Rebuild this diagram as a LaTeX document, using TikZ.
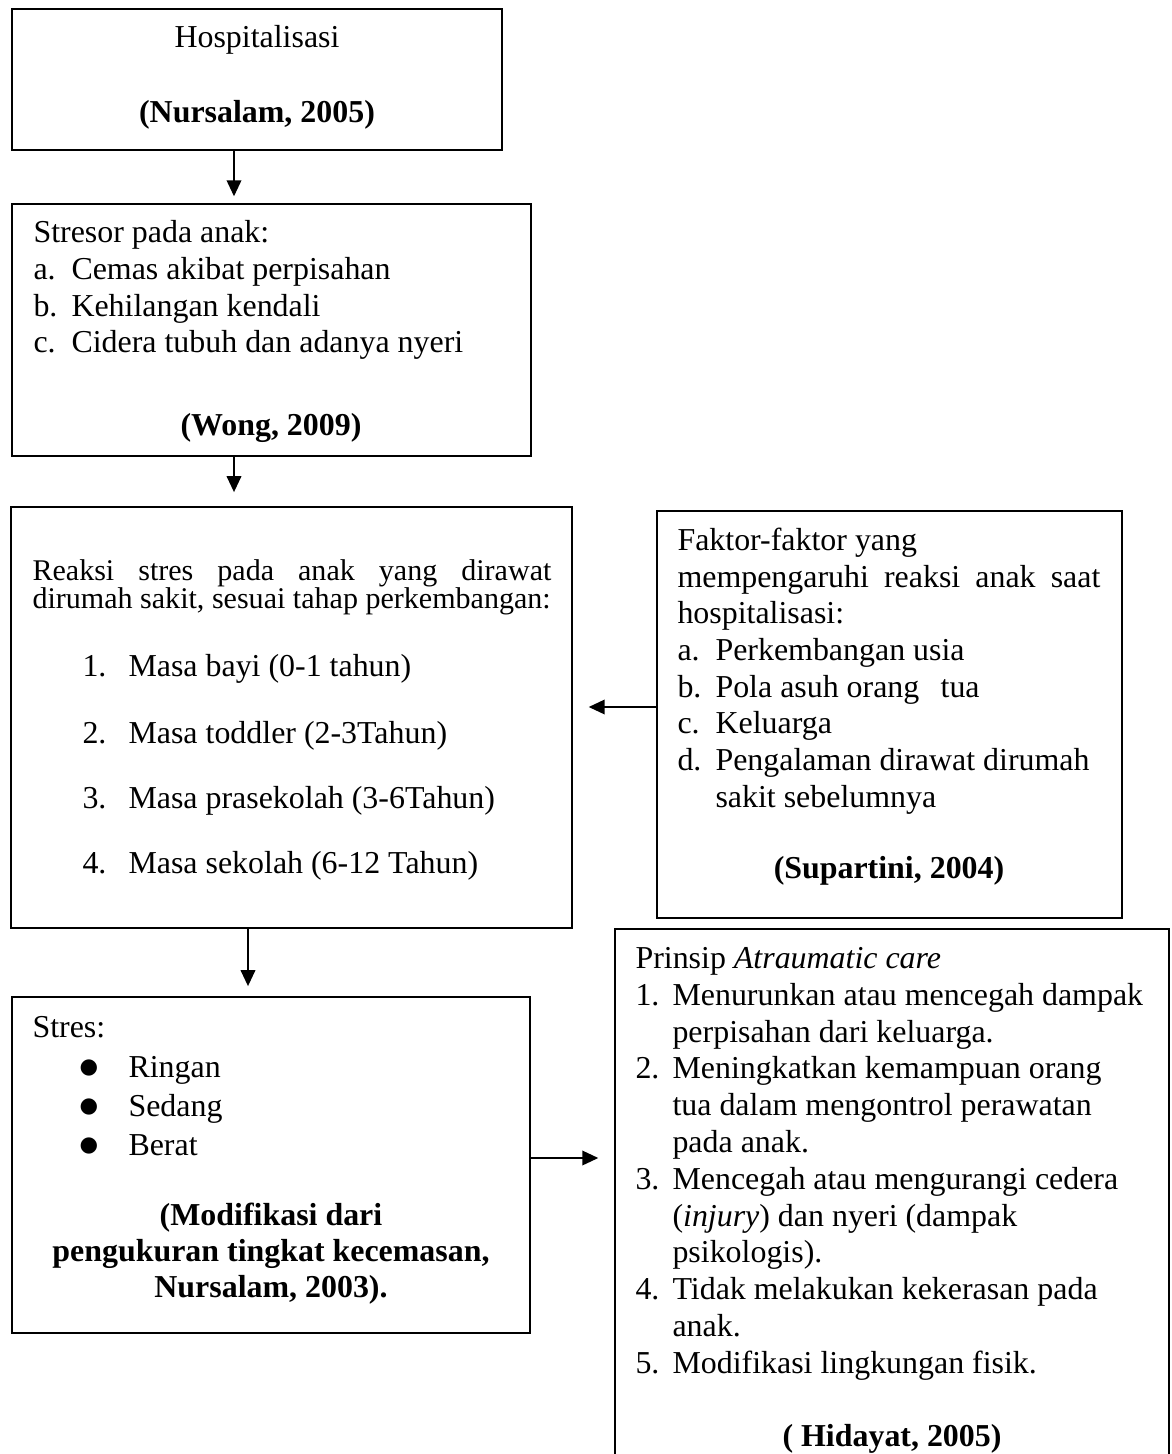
\documentclass[tikz,border=0pt]{standalone}
\usepackage{fontspec}
\setmainfont{Liberation Serif}
\newfontfamily\symfont{DejaVu Sans}
\usetikzlibrary{arrows.meta,fit}

\tikzset{
  box/.style={draw, line width=0.6pt, inner sep=0pt},
  txt/.style={anchor=base west, inner sep=0pt, font=\fontsize{12}{13.8}\selectfont},
  ctr/.style={anchor=base, inner sep=0pt, font=\fontsize{12}{13.8}\selectfont\bfseries},
  arr/.style={-{Triangle[length=6pt,width=5.5pt]}, line width=0.6pt},
}
\newcommand{\bul}{\raisebox{1.2pt}{\symfont\fontsize{8}{8}\selectfont ●}}

\begin{document}
\begin{tikzpicture}[x=0.376pt, y=-0.376pt]
    \useasboundingbox (0,0) rectangle (1171,1454);
    \clip (0,0) rectangle (1171,1454);

    % boxes
    \node[box, fit={(12,9) (502,150)}] (hosp) {};
    \node[box, fit={(12,204) (531,456)}] (stresor) {};
    \node[box, fit={(11,507) (572,928)}] (reaksi) {};
    \node[box, fit={(657,511) (1122,918)}] (faktor) {};
    \node[box, fit={(12,997) (530,1333)}] (stres) {};
    \node[box, fit={(615,929) (1169,1480)}] (prinsip) {};

    % hospitalisasi
    \node[ctr, font=\fontsize{12}{13.8}\selectfont] (hosp-t) at (257,48) {Hospitalisasi};
    \node[ctr] (hosp-r) at (257,123) {(Nursalam, 2005)};

    % stresor
    \node[txt] (stresor-t) at (33,243) {Stresor pada anak:};
    \foreach \n/\y/\t in {a/280/Cemas akibat perpisahan, b/317/Kehilangan kendali, c/353/Cidera tubuh dan adanya nyeri}{
        \node[txt] (stresor-\n) at (33,\y) {\n.};
        \node[txt] (stresor-t\n) at (71,\y) {\t};
    }
    \node[ctr] (stresor-r) at (271,435) {(Wong, 2009)};

    % reaksi
    \node[txt, font=\fontsize{11.3}{13}\selectfont] (reaksi-t1) at (32,580)
        {\makebox[195.1pt][s]{Reaksi stres pada anak yang dirawat}};
    \node[txt, font=\fontsize{11.3}{13}\selectfont] (reaksi-t2) at (32,608)
        {dirumah sakit, sesuai tahap perkembangan:};
    \foreach \n/\y/\t in {1/676/Masa bayi (0-1 tahun), 2/743/Masa toddler (2-3Tahun), 3/808/Masa prasekolah (3-6Tahun), 4/873/Masa sekolah (6-12 Tahun)}{
        \node[txt] (reaksi-\n) at (82,\y) {\n.};
        \node[txt] (reaksi-t\n) at (128,\y) {\t};
    }

    % faktor
    \node[txt] (faktor-t1) at (677,550) {Faktor-faktor yang};
    \node[txt] (faktor-t2) at (677,587) {\makebox[159pt][s]{mempengaruhi reaksi anak saat}};
    \node[txt] (faktor-t3) at (677,623) {hospitalisasi:};
    \foreach \n/\y/\t in {a/660/Perkembangan usia, b/697/Pola asuh orang\hspace{8pt}tua, c/733/Keluarga, d/770/Pengalaman dirawat dirumah}{
        \node[txt] (faktor-\n) at (677,\y) {\n.};
        \node[txt] (faktor-t\n) at (715,\y) {\t};
    }
    \node[txt] (faktor-td2) at (715,807) {sakit sebelumnya};
    \node[ctr] (faktor-r) at (889,878) {(Supartini, 2004)};

    % stres
    \node[txt] (stres-t) at (32,1037) {Stres:};
    \foreach \y/\t [count=\i] in {1077/Ringan, 1116/Sedang, 1155/Berat}{
        \node[txt] (stres-b\i) at (79,\y) {\bul};
        \node[txt] (stres-t\i) at (128,\y) {\t};
    }
    \node[ctr] (stres-r1) at (271,1225) {(Modifikasi dari};
    \node[ctr] (stres-r2) at (271,1261) {pengukuran tingkat kecemasan,};
    \node[ctr] (stres-r3) at (271,1297) {Nursalam, 2003).};

    % prinsip
    \node[txt] (prinsip-t) at (635,968) {Prinsip \textit{Atraumatic care}};
    \foreach \n/\y in {1/1005, 2/1078, 3/1189, 4/1299, 5/1373}
        \node[txt] (prinsip-\n) at (635,\y) {\n.};
    \foreach \y/\t [count=\i] in {1005/Menurunkan atau mencegah dampak, 1042/perpisahan dari keluarga., 1078/Meningkatkan kemampuan orang, 1115/tua dalam mengontrol perawatan, 1152/pada anak., 1189/Mencegah atau mengurangi cedera, 1226/{(\textit{injury}) dan nyeri (dampak}, 1262/psikologis)., 1299/Tidak melakukan kekerasan pada, 1336/anak., 1373/Modifikasi lingkungan fisik.}
        \node[txt] (prinsip-t\i) at (672,\y) {\t};
    \node[ctr] (prinsip-r) at (892,1446) {( Hidayat, 2005)};

    % arrows
    \coordinate (a1) at (234,0);
    \coordinate (a2) at (248,0);
    \coordinate (h1) at (0,707);
    \coordinate (h2) at (0,1158);
    \draw[arr, shorten >=2.6pt] (hosp.south -| a1) -- (stresor.north -| a1);
    \draw[arr, shorten >=5.3pt] (stresor.south -| a1) -- (reaksi.north -| a1);
    \draw[arr, shorten >=6pt] (faktor.west |- h1) -- (reaksi.east |- h1);
    \draw[arr, shorten >=3.8pt] (reaksi.south -| a2) -- (stres.north -| a2);
    \draw[arr, shorten >=6pt] (stres.east |- h2) -- (prinsip.west |- h2);
\end{tikzpicture}
\end{document}
